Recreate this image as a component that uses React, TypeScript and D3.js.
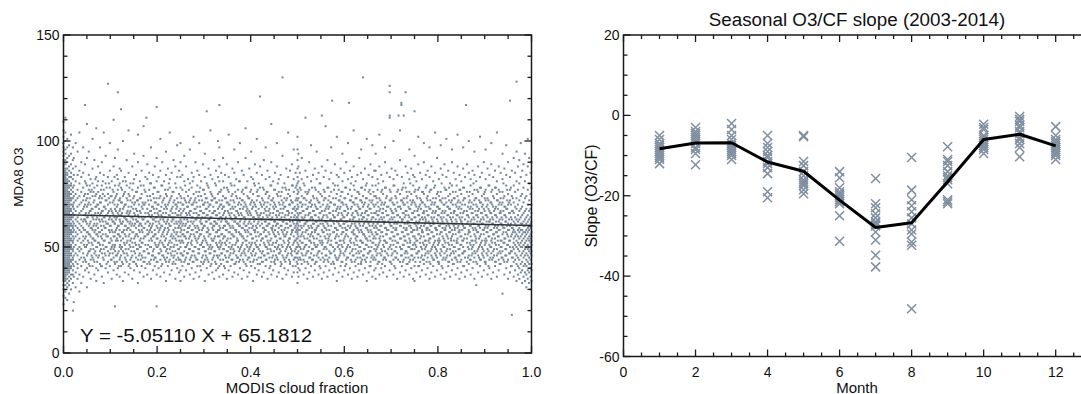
import React from "react";
import * as d3 from "d3";

// ---- left panel: MDA8 O3 vs MODIS cloud fraction ----
// each entry: cloud fraction (x1000) and the O3 values (ppb) read off that column of dots
const scatterColumns: [number, string][] = [
  [0, "23 27 30 32 34 35 36 37 38 39 40 41 42 43 44 45 46 47 48 49 50 51 52 53 54 55 56 57 58 59 60 61 62 63 64 65 66 67 68 69 70 71 72 73 74 75 76 77 78 79 80 81 82 83 84 85 86 87 88 89 90 91 93 95 97 99 102 105 109"],
  [4, "26 29 32 34 35 36 37 38 39 40 41 42 43 44 45 46 47 48 49 50 51 52 53 54 55 56 57 58 59 60 61 62 63 64 65 66 67 68 69 70 71 72 73 74 75 76 77 78 79 80 81 82 83 84 85 86 87 89 91 94 96 100 104 111"],
  [8, "25 31 33 35 37 38 39 40 41 42 43 44 45 46 47 48 49 50 51 52 53 54 55 56 57 58 59 60 61 62 63 64 65 66 67 68 69 70 71 72 73 74 75 76 77 78 79 80 81 82 84 85 87 90 92 97 101"],
  [12, "28 32 34 36 38 39 40 41 42 43 44 45 46 47 48 49 50 51 52 53 54 55 56 57 58 59 60 61 62 63 64 65 66 67 68 69 70 71 72 73 74 75 76 78 79 81 83 86 88 93 98"],
  [16, "30 35 37 40 41 43 44 46 47 49 50 51 53 54 56 57 58 60 61 63 64 65 67 68 70 72 73 75 77 79 80 83 85 89 94 103"],
  [20, "20 33 37 39 42 44 45 48 49 52 53 55 57 59 60 62 64 66 69 70 73 76 78 82 87 91 97"],
  [22, "24 36 41 46 50 54 58 61 65 68 71 74 79 84 92"],
  [26, "31 38 43 47 51 55 57 60 63 67 72 75 81 88 99"],
  [30, "35 40 42 46 49 53 56 59 62 64 69 73 77 84 95"],
  [34, "29 37 44 48 50 54 58 61 66 70 74 80 86 104"],
  [38, "33 41 45 49 52 57 60 63 67 71 76 83 90"],
  [42, "36 43 47 53 55 59 62 68 72 78 85 97"],
  [46, "39 44 50 54 58 63 65 70 75 81 89 117"],
  [50, "31 40 46 51 57 61 64 69 73 79 92 108"],
  [54, "38 42 48 52 56 60 66 71 77 84 95"],
  [58, "35 44 49 55 59 62 67 70 76 82"],
  [62, "41 45 51 54 58 64 68 74 80 87 101"],
  [66, "37 43 47 53 57 61 65 72 78 91"],
  [70, "34 40 46 50 56 60 63 69 75 83 106"],
  [74, "39 45 52 55 59 66 70 76 81 88"],
  [78, "42 48 51 57 62 65 71 74 85 97"],
  [82, "36 41 47 54 58 63 67 73 79 90"],
  [86, "33 44 49 53 60 64 69 77 84 104"],
  [90, "40 46 50 56 59 62 68 72 80 93"],
  [95, "38 43 48 55 61 66 70 75 83 127"],
  [99, "41 47 52 57 60 64 71 78 86 99"],
  [103, "35 44 50 53 58 63 67 74 81"],
  [107, "39 45 49 55 62 65 72 76 88 110"],
  [110, "22 42 48 51 57 61 68 73 79 92"],
  [114, "37 43 46 54 59 64 69 75 84"],
  [116, "40 47 53 56 60 66 70 77 82 96 123"],
  [120, "36 44 50 55 58 63 67 72 80 87"],
  [123, "41 46 49 53 61 65 71 78 86 115"],
  [127, "34 42 48 54 57 62 68 74 81 100"],
  [131, "38 45 51 56 60 64 70 76 83"],
  [135, "43 47 52 58 63 66 73 79 91"],
  [139, "37 41 49 55 59 65 69 75 85 105"],
  [143, "40 44 50 53 58 62 67 72 80"],
  [147, "35 46 52 57 61 64 71 77 88"],
  [151, "39 43 48 54 60 66 70 74 82 94"],
  [155, "42 45 51 56 59 63 68 76 84"],
  [159, "33 44 49 55 62 65 72 78 90 103"],
  [163, "38 47 50 53 57 61 67 73 81"],
  [167, "41 46 52 58 60 64 69 75 86"],
  [171, "36 43 48 54 59 63 70 79 93 107"],
  [175, "40 45 51 55 61 66 71 76 83"],
  [177, "111"],
  [179, "37 42 49 56 58 62 68 74 82 89"],
  [183, "43 47 53 57 60 65 70 77 85"],
  [187, "35 44 50 54 59 64 67 72 80 97"],
  [191, "39 46 48 55 61 63 69 75 84"],
  [195, "41 45 52 56 58 66 71 78 88"],
  [199, "22 37 43 50 54 60 64 68 73 81 92 116"],
  [203, "40 47 51 57 62 65 70 76 83"],
  [207, "36 44 49 53 59 63 67 74 86 101"],
  [211, "42 46 52 56 60 64 71 79 90"],
  [215, "38 45 50 55 58 62 68 73 81"],
  [219, "34 43 48 54 61 66 69 75 84 95"],
  [223, "41 47 51 57 59 63 70 77 87"],
  [227, "37 44 49 53 60 65 72 78 82 104"],
  [231, "39 46 52 56 62 64 68 74 85"],
  [235, "43 45 50 55 58 63 71 76 91"],
  [239, "35 42 48 54 59 66 70 80 88"],
  [243, "40 47 51 57 61 65 69 73 83 98"],
  [247, "38 44 49 53 60 62 67 75 86"],
  [250, "34 39 44 47 50 52 55 57 59 61 63 65 68 71 74 78 83 90 99"],
  [254, "41 46 53 56 60 64 70 77 84"],
  [258, "36 43 48 55 58 63 68 73 81 93"],
  [262, "39 45 50 54 61 66 71 76 88"],
  [266, "42 47 52 57 59 62 69 74 82"],
  [270, "37 44 49 55 60 65 67 72 80 96"],
  [274, "40 46 51 53 58 64 70 78 85"],
  [278, "35 43 48 56 62 66 71 75 83 102"],
  [282, "38 45 50 54 59 63 68 73 90"],
  [286, "41 44 52 57 60 64 69 79 86"],
  [290, "36 47 49 55 58 65 72 76 84 99"],
  [294, "39 43 51 56 61 63 67 74 81"],
  [298, "42 46 50 53 59 66 70 77 89"],
  [302, "34 44 48 54 60 64 71 75 83 94"],
  [306, "40 45 52 57 62 65 68 73 80 114"],
  [310, "37 43 49 55 58 63 69 78 87"],
  [314, "41 47 51 56 61 64 70 76 84 105"],
  [318, "38 44 50 53 59 66 72 74 82"],
  [322, "35 46 48 54 60 62 67 73 91"],
  [326, "39 42 52 57 61 65 71 79 86"],
  [330, "40 45 50 55 58 63 68 75 83 100"],
  [333, "36 41 46 49 52 55 58 60 63 66 69 72 76 81 88 97 117"],
  [337, "42 47 51 56 62 64 70 77 85"],
  [341, "37 44 49 54 59 65 69 74 81 92"],
  [345, "40 46 52 55 60 63 67 73 84"],
  [349, "35 43 48 53 58 62 71 78 89"],
  [353, "39 45 50 57 61 66 70 76 83 103"],
  [357, "41 47 49 54 59 64 68 72 80"],
  [361, "36 44 51 56 60 63 69 75 87"],
  [365, "38 42 48 55 62 65 71 79 85 96"],
  [369, "43 46 52 57 58 64 67 74 82"],
  [373, "37 45 50 53 61 66 70 77 90"],
  [377, "40 44 49 56 60 62 68 73 81 99"],
  [381, "35 47 51 55 59 65 72 76 86"],
  [385, "39 43 48 54 61 64 69 75 84"],
  [389, "42 46 53 57 60 63 70 78 92 106"],
  [393, "36 44 50 55 58 66 68 74 81"],
  [397, "38 45 49 52 59 62 67 73 87"],
  [401, "41 47 51 56 61 65 71 77 83 95"],
  [405, "34 43 48 54 60 64 69 75 82"],
  [409, "40 46 52 57 58 63 70 79 89"],
  [413, "37 44 50 53 59 66 72 76 85 101"],
  [417, "39 45 49 55 62 64 68 74 80"],
  [420, "42 48 51 56 60 65 71 78 88 121"],
  [424, "36 43 47 54 61 63 69 73 84"],
  [428, "38 46 52 57 59 66 70 77 91"],
  [432, "41 44 50 55 58 62 67 75 82 97"],
  [436, "35 47 49 53 60 64 71 76 86"],
  [440, "40 45 51 56 61 65 68 74 83"],
  [444, "37 43 48 54 59 63 72 79 90 108"],
  [448, "39 46 52 57 60 66 69 73 81"],
  [452, "42 44 50 55 58 62 70 77 85"],
  [456, "36 45 49 53 61 64 67 75 88 99"],
  [460, "38 47 51 56 59 65 71 76 82"],
  [464, "41 43 48 54 60 63 68 74 84"],
  [468, "35 46 50 57 62 66 70 78 93 130"],
  [472, "40 44 52 55 58 64 69 73 80"],
  [476, "37 45 49 56 61 63 72 77 87"],
  [480, "39 47 51 53 59 65 67 75 83 104"],
  [484, "42 43 50 54 60 62 70 74 86"],
  [488, "36 46 48 57 58 66 71 79 89"],
  [492, "38 44 52 55 61 64 68 76 82 96"],
  [496, "41 45 49 53 57 60 63 67 72 78 85"],
  [500, "33 38 42 45 47 50 52 54 56 57 59 61 62 64 66 68 70 72 75 77 80 83 87 91 96 102"],
  [502, "36 40 44 48 51 55 58 60 63 65 69 73 76 81 88 94"],
  [505, "39 45 50 53 58 62 66 71 78 85"],
  [509, "42 47 52 56 59 64 69 74 82 92"],
  [513, "37 44 49 55 60 63 67 73 80"],
  [517, "40 46 51 57 61 65 70 76 86 111"],
  [521, "35 43 48 54 58 62 68 75 83"],
  [525, "38 45 50 53 59 66 71 77 90"],
  [529, "41 47 52 56 60 64 69 72 81 98"],
  [533, "36 44 49 55 61 63 67 74 84"],
  [537, "39 42 51 57 58 65 70 78 87"],
  [541, "43 46 50 54 59 62 68 73 82 95"],
  [545, "37 45 48 56 60 64 71 76 85"],
  [549, "40 44 52 55 61 66 69 75 80"],
  [552, "35 47 51 53 58 63 67 74 88 112"],
  [556, "38 43 49 57 60 65 72 77 83"],
  [560, "41 46 50 54 59 62 68 73 86 107"],
  [564, "36 44 52 56 61 64 70 78 91"],
  [568, "39 45 48 55 58 66 69 74 82"],
  [572, "42 47 51 53 60 63 71 76 85 97"],
  [574, "119"],
  [576, "37 43 50 57 62 65 67 73 80"],
  [580, "40 46 49 54 59 64 70 79 89"],
  [584, "34 44 52 56 58 62 68 75 84 102"],
  [588, "38 45 51 55 61 66 72 77 83"],
  [592, "41 47 48 53 60 63 69 74 87"],
  [596, "36 43 50 57 59 65 71 76 81 94"],
  [600, "39 46 52 54 61 64 67 73 85"],
  [604, "42 44 49 56 58 62 70 78 90"],
  [608, "37 45 51 55 60 66 68 75 82 99"],
  [610, "118"],
  [612, "40 47 50 53 59 63 72 77 86"],
  [616, "35 43 48 57 61 65 69 74 83"],
  [620, "38 46 52 56 58 64 71 79 88 105"],
  [624, "41 44 49 54 60 62 67 73 81"],
  [628, "36 45 51 55 59 66 70 76 84"],
  [632, "39 47 50 57 61 63 68 75 92"],
  [636, "43 42 48 53 58 65 72 78 85 96"],
  [640, "37 46 52 56 60 64 69 74 82 130"],
  [644, "40 44 49 55 62 66 71 77 87"],
  [648, "34 45 51 54 59 63 67 73 80 101"],
  [652, "38 47 50 57 61 65 70 76 84"],
  [656, "41 43 48 53 58 62 68 75 89"],
  [660, "36 46 52 56 60 64 72 79 83 98"],
  [664, "39 45 49 55 59 66 69 74 86"],
  [667, "35 40 44 48 51 54 57 60 63 66 70 74 79 86 94"],
  [671, "42 47 50 56 61 65 71 77 82"],
  [675, "37 43 52 54 58 63 67 73 88 103"],
  [679, "40 46 49 57 60 64 70 76 84"],
  [683, "38 44 51 55 62 66 68 75 81"],
  [687, "41 45 48 53 59 62 71 78 90 97"],
  [691, "36 47 52 56 58 65 69 74 85"],
  [697, "39 43 50 54 61 63 72 77 83 111 112 123 126"],
  [701, "42 46 49 57 60 64 67 73 87"],
  [705, "37 44 51 55 59 66 70 79 82 100"],
  [709, "40 45 48 53 58 62 68 74 86"],
  [713, "35 47 52 56 61 65 71 76 84"],
  [716, "112"],
  [719, "38 43 50 54 60 64 69 75 91 105"],
  [722, "117 118"],
  [723, "41 46 49 57 62 63 72 77 83"],
  [727, "36 44 51 55 59 66 70 73 80 112"],
  [731, "39 45 48 53 58 65 67 78 88 123"],
  [735, "42 47 52 56 61 62 71 74 85"],
  [739, "37 43 50 54 60 64 68 76 82 96"],
  [743, "40 46 49 57 59 63 70 75 87"],
  [747, "35 44 51 55 58 66 72 79 84"],
  [750, "34 41 45 49 52 55 58 61 64 67 71 76 83 93 114"],
  [754, "38 47 50 53 60 62 69 74 81"],
  [758, "41 45 48 56 61 65 68 77 89 102"],
  [762, "36 43 52 54 59 63 70 73 85"],
  [766, "39 46 49 57 58 64 71 76 82"],
  [770, "42 44 51 55 60 66 67 75 90 99"],
  [774, "37 47 50 53 62 63 69 78 84"],
  [778, "40 45 48 56 59 65 72 74 86"],
  [782, "35 43 52 54 58 61 68 76 83 97"],
  [786, "38 46 49 57 60 64 70 77 88"],
  [790, "41 44 51 55 61 62 67 73 81"],
  [794, "36 47 50 53 59 66 71 79 85 104"],
  [798, "39 45 48 56 58 63 69 75 92"],
  [802, "42 43 52 54 60 65 68 74 82"],
  [806, "37 46 49 57 61 64 72 76 87 98"],
  [810, "40 44 51 55 59 62 67 73 84"],
  [814, "35 47 50 53 58 66 70 78 89"],
  [818, "38 45 48 56 60 63 71 77 83 101"],
  [822, "41 43 52 54 61 65 69 74 86"],
  [826, "36 46 49 57 59 64 68 75 80"],
  [830, "39 44 51 55 58 62 72 79 90 96"],
  [834, "42 47 50 53 60 66 67 73 85"],
  [838, "37 45 48 56 61 63 70 76 82"],
  [842, "40 43 52 54 59 65 71 74 88 103"],
  [846, "35 46 49 57 58 64 69 77 84"],
  [850, "38 44 51 55 62 62 68 75 81"],
  [854, "41 47 50 53 60 66 72 78 87 97"],
  [858, "36 45 48 56 59 63 70 73 83"],
  [860, "117"],
  [862, "39 43 52 54 61 65 67 76 89"],
  [866, "42 46 49 57 58 64 71 74 85 100"],
  [870, "37 44 51 55 60 62 69 79 82"],
  [874, "40 47 50 53 59 66 68 75 86"],
  [878, "35 45 48 56 61 63 72 77 84 95"],
  [882, "32 43 52 54 58 65 70 73 81"],
  [886, "38 46 49 57 60 64 67 76 88"],
  [890, "41 44 51 55 59 62 71 78 83 102"],
  [894, "36 47 50 53 61 66 69 74 85"],
  [898, "39 45 48 56 58 63 68 75 90"],
  [902, "42 43 52 54 60 65 72 77 82 96"],
  [906, "37 46 49 57 59 64 70 73 87"],
  [910, "40 44 51 55 62 62 67 79 84"],
  [914, "35 47 50 53 58 66 71 76 89 99"],
  [918, "38 45 48 56 61 63 69 74 83"],
  [922, "41 43 52 54 60 65 68 78 86"],
  [926, "36 46 49 57 59 64 72 75 81 104"],
  [930, "39 44 51 55 58 62 70 77 88"],
  [934, "42 47 50 53 61 66 67 73 85"],
  [938, "28 45 48 56 60 63 71 76 82 94"],
  [942, "37 43 52 54 59 65 69 74 87"],
  [946, "40 46 49 57 62 64 68 79 84 98"],
  [950, "35 44 51 55 58 61 70 75 90"],
  [954, "38 47 50 53 60 66 72 77 83 119"],
  [958, "18 41 45 48 56 59 63 67 74 86"],
  [962, "36 43 49 52 54 58 62 66 71 79 92"],
  [965, "39 44 47 51 55 57 61 64 69 76 85"],
  [968, "34 42 46 50 53 56 60 63 68 73 81 95 128"],
  [971, "37 41 45 49 52 55 58 62 65 70 77 88"],
  [974, "35 40 44 48 51 54 57 59 63 67 72 80 91"],
  [977, "38 42 46 50 52 55 58 61 64 68 74 83 99"],
  [980, "33 39 43 47 50 53 56 58 61 65 69 75 86"],
  [983, "36 41 45 48 51 54 57 60 62 66 71 78 89"],
  [986, "34 38 42 46 49 52 55 57 60 63 67 73 81 94"],
  [989, "31 37 41 44 47 50 53 56 58 61 64 68 74 84"],
  [992, "35 39 43 46 49 51 54 57 59 62 65 70 77 88 101"],
  [995, "33 38 42 45 48 50 53 55 58 60 63 67 72 80 92"],
  [998, "30 36 40 44 47 49 52 54 56 59 61 64 68 75 85"],
  [1000, "34 39 42 46 48 51 53 55 57 60 62 66 70 78 90"],
];

// second pass over the scatter: the dense core (about 40-80 ppb) between the columns above
const scatterCore: [number, string][] = [
  [44, "45 51 58 63 69 74"], [48, "43 50 55 62 66 72 80"], [52, "47 53 57 64 70 75"],
  [56, "41 48 56 61 67 73 79"], [60, "46 52 59 65 68 77"], [64, "44 49 54 60 63 71 76"],
  [68, "48 53 58 66 69 74 82"], [72, "43 50 56 61 64 70 79"], [76, "46 52 57 63 68 73"],
  [80, "41 49 55 60 66 71 77"], [84, "45 51 56 62 67 75 81"], [88, "47 53 59 64 69 74"],
  [92, "42 50 55 61 65 72 78"], [97, "46 52 58 63 67 73 80"], [101, "44 49 54 60 68 74"],
  [105, "47 51 57 62 66 71 77"], [109, "43 50 55 61 64 70 83"], [112, "46 53 58 63 67 74"],
  [118, "41 48 56 60 65 72 79"], [121, "45 51 55 62 68 73"], [125, "43 50 57 61 66 71 77"],
  [129, "47 52 58 64 69 75"], [133, "44 49 55 60 63 70 81"], [137, "46 53 59 62 67 72"],
  [141, "42 51 56 61 66 74 78"], [145, "45 48 54 60 64 69"], [149, "43 50 57 63 68 73 80"],
  [153, "47 52 55 61 65 71"], [157, "41 49 56 62 67 72 76"], [161, "46 51 58 60 64 70"],
  [165, "44 50 54 61 66 73 79"], [169, "45 52 57 63 68 71"], [173, "43 48 55 59 64 70 77"],
  [181, "47 51 56 62 66 72"], [185, "42 50 58 61 67 74 80"], [189, "46 53 57 60 65 69"],
  [193, "44 49 55 63 68 73 78"], [197, "45 51 56 62 64 71"], [201, "43 50 54 59 66 70 76"],
  [205, "47 52 58 61 67 73"], [209, "41 48 55 60 65 69 79"], [213, "46 51 57 63 66 72"],
  [217, "44 50 53 59 64 70 77"], [221, "45 49 56 62 68 74"], [225, "43 52 58 61 65 71 80"],
  [229, "47 50 55 60 67 73"], [233, "42 48 54 63 66 69 76"], [237, "46 51 57 61 64 72"],
  [241, "44 53 56 62 68 70 78"], [245, "45 49 55 59 65 71"], [252, "43 47 53 58 62 66 73"],
  [256, "46 52 56 61 67 70"], [260, "44 50 55 60 64 72 79"], [264, "47 51 57 63 65 69"],
  [268, "42 49 54 59 66 71 77"], [272, "45 52 56 62 67 73"], [276, "43 48 58 61 64 70 81"],
  [280, "46 50 55 60 68 72"], [284, "44 53 57 63 66 71 76"], [288, "47 49 54 59 65 74"],
  [292, "41 51 56 62 67 69 78"], [296, "45 52 58 61 64 72"], [300, "43 50 55 60 66 70 77"],
  [304, "46 48 53 62 68 73"], [308, "44 51 57 59 65 71 79"], [312, "47 50 56 63 67 70"],
  [316, "42 49 54 61 64 72 75"], [320, "45 53 58 60 66 69"], [324, "43 48 55 62 67 73 80"],
  [328, "46 51 57 61 65 71"], [335, "44 50 53 59 64 70 76"], [339, "47 52 56 63 68 72"],
  [343, "41 49 55 60 66 69 78"], [347, "45 51 58 62 64 73"], [351, "43 48 54 61 67 71 77"],
  [355, "46 52 57 60 65 70"], [359, "44 50 56 63 66 74 79"], [363, "47 49 55 59 68 72"],
  [367, "42 51 58 62 64 69 76"], [371, "45 53 54 61 67 73"], [375, "43 48 57 60 65 71 81"],
  [379, "46 50 56 63 66 70"], [383, "44 52 55 59 68 72 77"], [387, "47 49 58 62 64 71"],
  [391, "41 51 53 60 67 69 78"], [395, "45 48 57 61 65 73"], [399, "43 50 56 63 66 70 76"],
  [403, "46 52 54 59 68 72"], [407, "44 49 58 62 64 71 80"], [411, "47 51 55 60 67 69"],
  [415, "42 50 57 61 65 74 77"], [422, "45 53 56 63 66 70"], [426, "43 48 54 59 64 72 78"],
  [430, "46 51 58 62 68 71"], [434, "44 50 55 60 65 69 76"], [438, "47 52 57 61 67 73"],
  [442, "41 49 53 63 66 70 79"], [446, "45 51 58 59 64 72"], [450, "43 48 56 62 68 71 77"],
  [454, "46 52 55 60 65 69"], [458, "44 50 57 61 67 74 80"], [462, "47 49 54 63 66 70"],
  [466, "42 51 58 60 64 72 76"], [470, "45 53 56 62 68 71"], [474, "43 48 55 59 65 69 78"],
  [478, "46 50 57 61 67 73"], [482, "44 52 54 63 66 70 77"], [486, "47 49 56 60 64 72"],
  [490, "41 51 58 62 68 71 79"], [494, "45 48 53 59 65 69"], [498, "43 47 50 54 58 61 64 68 73 79"],
  [507, "44 49 55 60 66 71 77"], [511, "46 52 57 63 67 70"], [515, "43 50 54 61 64 73 79"],
  [519, "47 51 58 62 68 72"], [523, "42 48 56 60 65 69 76"], [527, "45 53 55 63 66 71"],
  [531, "44 49 57 59 64 70 78"], [535, "46 52 54 61 67 73"], [539, "43 50 58 62 65 69 77"],
  [543, "47 51 56 60 68 72"], [547, "41 48 53 63 66 71 80"], [554, "45 52 57 61 64 70"],
  [558, "44 50 55 59 67 73 76"], [562, "46 49 58 62 65 69"], [566, "43 53 54 60 68 72 78"],
  [570, "47 51 56 63 66 71"], [578, "42 48 57 61 64 70 77"], [582, "45 52 55 59 67 73"],
  [586, "44 50 58 62 65 69 79"], [590, "46 49 53 60 68 72"], [594, "43 51 56 63 66 71 76"],
  [598, "47 53 57 61 64 70"], [602, "41 48 55 59 67 73 78"], [606, "45 50 58 62 65 69"],
  [614, "44 52 54 60 68 72 80"], [618, "46 49 57 63 66 71"], [622, "43 51 56 61 64 70 77"],
  [626, "47 53 55 59 67 73"], [630, "42 48 58 62 65 69 76"], [634, "45 50 53 60 68 72"],
  [638, "44 52 57 63 66 71 78"], [642, "46 49 56 61 64 70"], [646, "43 51 54 59 67 73 79"],
  [650, "47 53 58 62 65 69"], [654, "41 48 55 60 68 72 77"], [658, "45 50 57 63 66 71"],
  [662, "44 52 54 61 64 70 76"], [669, "46 49 56 59 67 73"], [673, "43 51 58 62 65 69 80"],
  [677, "47 53 55 60 68 72"], [681, "42 48 57 63 66 71 77"], [685, "45 50 53 61 64 70"],
  [689, "44 52 56 59 67 73 78"], [694, "46 49 58 62 65 69"], [699, "43 51 54 60 68 72 76"],
  [703, "47 53 57 63 66 71"], [707, "41 48 55 61 64 70 79"], [711, "45 50 58 59 67 73"],
  [715, "44 52 56 62 65 69 77"], [721, "46 49 54 60 68 72"], [725, "43 51 57 63 66 71 78"],
  [729, "47 53 55 61 64 70"], [733, "42 48 58 59 67 73 76"], [737, "45 50 56 62 65 69"],
  [741, "44 52 53 60 68 72 80"], [745, "46 49 57 63 66 71"], [752, "43 51 54 61 64 70 77"],
  [756, "47 53 58 59 67 73"], [760, "41 48 56 62 65 69 78"], [764, "45 50 55 60 68 72"],
  [768, "44 52 57 63 66 71 76"], [772, "46 49 53 61 64 70"], [776, "43 51 58 59 67 73 79"],
  [780, "47 53 56 62 65 69"], [784, "42 48 54 60 68 72 77"], [788, "45 50 57 63 66 71"],
  [792, "44 52 55 61 64 70 78"], [796, "46 49 58 59 67 73"], [800, "43 51 53 62 65 69 76"],
  [804, "47 53 56 60 68 72"], [808, "41 48 57 63 66 71 80"], [812, "45 50 54 61 64 70"],
  [816, "44 52 58 59 67 73 77"], [820, "46 49 55 62 65 69"], [824, "43 51 57 60 68 72 78"],
  [828, "47 53 54 63 66 71"], [832, "42 48 56 61 64 70 76"], [836, "45 50 58 59 67 73"],
  [840, "44 52 53 62 65 69 79"], [844, "46 49 57 60 68 72"], [848, "43 51 55 63 66 71 77"],
  [852, "47 53 58 61 64 70"], [856, "41 48 54 59 67 73 78"], [864, "45 50 56 62 65 69"],
  [868, "44 52 57 60 68 72 76"], [872, "46 49 53 63 66 71"], [876, "43 51 58 61 64 70 80"],
  [880, "47 53 55 59 67 73"], [884, "42 48 57 62 65 69 77"], [888, "45 50 54 60 68 72"],
  [892, "44 52 56 63 66 71 78"], [896, "46 49 58 61 64 70"], [900, "43 51 53 59 67 73 76"],
  [904, "47 53 57 62 65 69"], [908, "41 48 55 60 68 72 79"], [912, "45 50 58 63 66 71"],
  [916, "44 52 54 61 64 70 77"], [920, "46 49 56 59 67 73"], [924, "43 51 57 62 65 69 78"],
  [928, "47 53 55 60 68 72"], [932, "42 48 58 63 66 71 76"], [936, "45 50 53 61 64 70"],
  [940, "44 52 57 59 67 73 80"], [944, "46 49 54 62 65 69"], [948, "43 51 56 60 68 72 77"],
  [952, "47 53 58 63 66 71"], [956, "41 48 55 61 64 70 78"], [960, "45 50 57 59 67 73"],
];

const fitSlope = -5.0511;
const fitIntercept = 65.1812;

const leftXLabels = [0, 0.2, 0.4, 0.6, 0.8, 1.0];
const leftYLabels = [0, 50, 100, 150];

// ---- right panel: seasonal slope ----
const months = [1, 2, 3, 4, 5, 6, 7, 8, 9, 10, 11, 12];
const monthlyMean = [-8.3, -6.9, -6.8, -11.6, -13.9, -21.1, -27.9, -26.7, -16.5, -6.0, -4.7, -7.6];
// one slope per year (2003-2014) for each month
const yearlySlopes: number[][] = [
  [-5, -6, -7, -7.5, -8, -8.5, -9, -9.5, -10, -10.5, -11, -12],
  [-3, -4, -4.5, -5, -5.5, -6, -6.5, -7, -8, -8.5, -9.5, -12.3],
  [-2, -3.5, -5, -6, -7, -7.5, -8, -8.5, -9, -9.5, -10, -11],
  [-5, -7, -8, -9, -10, -10.5, -11.5, -12, -13, -14.5, -19, -20.5],
  [-5, -5.3, -11.5, -12.5, -14, -15, -16, -16.5, -17, -17.5, -18.5, -19.5],
  [-14, -15.5, -18, -19, -19.5, -20, -20.5, -21, -21.5, -22, -25, -31.3],
  [-15.7, -22, -23, -24.5, -25.5, -26.5, -27, -27.5, -29, -31, -34.8, -37.7],
  [-10.5, -18.6, -21, -22.5, -24, -25.5, -27, -28.5, -29.5, -31.5, -32.3, -48.1],
  [-7.8, -11, -11.5, -12.5, -14, -15, -15.5, -16, -17, -21, -21.5, -22],
  [-2.2, -3, -3.5, -5, -5.5, -6, -6.5, -7, -7.5, -8, -8.5, -9.5],
  [-0.3, -1, -1.5, -2.5, -3, -4, -4.5, -5.5, -6, -7, -8, -10.3],
  [-2.8, -5, -6, -6.5, -7, -7.5, -8, -8.5, -9, -9.5, -10, -11],
];
const rightXLabels = [0, 2, 4, 6, 8, 10, 12];
const rightYLabels = [-60, -40, -20, 0, 20];

const FONT = "'Liberation Sans', Arial, Helvetica, sans-serif";
const DOT = "#778899";
const AXIS = "#1a1a1a";

type Lin = d3.ScaleLinear<number, number>;

function Frame({ x, y, xMajor, yMajor, xMinor, yMinor, xFmt, yFmt }: {
  x: Lin; y: Lin; xMajor: number[]; yMajor: number[]; xMinor: number[]; yMinor: number[];
  xFmt: (v: number) => string; yFmt: (v: number) => string;
}) {
  const [x0, x1] = x.range();
  const [y0, y1] = y.range(); // y0 bottom, y1 top
  const big = 7, small = 4;
  return (
    <g>
      <rect x={x0} y={y1} width={x1 - x0} height={y0 - y1} fill="none" stroke={AXIS} strokeWidth={1.5} />
      {xMinor.map((t) => {
        const len = xMajor.includes(t) ? big : small;
        return (
          <g key={"xt" + t}>
            <line x1={x(t)} x2={x(t)} y1={y0} y2={y0 - len} stroke={AXIS} strokeWidth={1.3} />
            <line x1={x(t)} x2={x(t)} y1={y1} y2={y1 + len} stroke={AXIS} strokeWidth={1.3} />
          </g>
        );
      })}
      {yMinor.map((t) => {
        const len = yMajor.includes(t) ? big : small;
        return (
          <g key={"yt" + t}>
            <line x1={x0} x2={x0 + len} y1={y(t)} y2={y(t)} stroke={AXIS} strokeWidth={1.3} />
            <line x1={x1} x2={x1 - len} y1={y(t)} y2={y(t)} stroke={AXIS} strokeWidth={1.3} />
          </g>
        );
      })}
      {xMajor.map((t) => (
        <text key={"xl" + t} x={x(t)} y={377} textAnchor="middle" fontSize={14} fill="#111">
          {xFmt(t)}
        </text>
      ))}
      {yMajor.map((t) => (
        <text key={"yl" + t} x={x0 - 4} y={y(t) + 5} textAnchor="end" fontSize={14} fill="#111">
          {yFmt(t)}
        </text>
      ))}
    </g>
  );
}

export default function App() {
  const W = 1081, H = 394;

  const xL = d3.scaleLinear().domain([0, 1]).range([63.5, 531.5]);
  const yL = d3.scaleLinear().domain([0, 150]).range([353, 35]);
  const xR = d3.scaleLinear().domain([0, 13]).range([623.5, 1091.7]);
  const yR = d3.scaleLinear().domain([-60, 20]).range([356.5, 35]);

  const points = [...scatterColumns, ...scatterCore].flatMap(([cf, vals]) =>
    vals.split(" ").map((v) => ({ cf: cf / 1000, o3: +v }))
  );

  const meanLine = d3
    .line<number>()
    .x((_, i) => xR(months[i]))
    .y((d) => yR(d))(monthlyMean);

  const cross = "M-4.5,-4.5L4.5,4.5M-4.5,4.5L4.5,-4.5";

  return (
    <svg
      width={W}
      height={H}
      style={{ position: "absolute", left: 0, top: 0, background: "#fff", fontFamily: FONT }}
    >
      {/* left panel */}
      <g>
        {points.map((p, i) => (
          <rect key={i} x={xL(p.cf) - 1} y={yL(p.o3) - 1} width={2} height={2} fill={DOT} />
        ))}
        <line
          x1={xL(0)}
          x2={xL(1)}
          y1={yL(fitIntercept)}
          y2={yL(fitIntercept + fitSlope)}
          stroke="#333"
          strokeWidth={1.6}
        />
        <Frame
          x={xL}
          y={yL}
          xMajor={leftXLabels}
          yMajor={leftYLabels}
          xMinor={xL.ticks(20).map((d) => +d.toFixed(2))}
          yMinor={yL.ticks(15)}
          xFmt={d3.format(".1f")}
          yFmt={(v) => String(v)}
        />
        <text x={80} y={342} fontSize={18} textLength={232} lengthAdjust="spacingAndGlyphs" fill="#111">
          {`Y = ${fitSlope.toFixed(5)} X + ${fitIntercept}`}
        </text>
        <text x={297} y={392.5} textAnchor="middle" fontSize={15} fill="#111">
          MODIS cloud fraction
        </text>
        <text transform="translate(23,177) rotate(-90)" textAnchor="middle" fontSize={13.5} fill="#111">
          MDA8 O3
        </text>
      </g>

      {/* right panel */}
      <g>
        {yearlySlopes.map((vals, m) =>
          vals.map((v, k) => (
            <path
              key={m + "-" + k}
              d={cross}
              transform={`translate(${xR(months[m])},${yR(v)})`}
              stroke="#7f8fa0"
              strokeWidth={1.5}
              fill="none"
            />
          ))
        )}
        <path d={meanLine ?? ""} fill="none" stroke="#000" strokeWidth={3} strokeLinejoin="round" />
        <Frame
          x={xR}
          y={yR}
          xMajor={rightXLabels}
          yMajor={rightYLabels}
          xMinor={xR.ticks(26)}
          yMinor={yR.ticks(16)}
          xFmt={(v) => String(v)}
          yFmt={(v) => String(v)}
        />
        <text x={857} y={26} textAnchor="middle" fontSize={18.8} fill="#111">
          Seasonal O3/CF slope (2003-2014)
        </text>
        <text x={857} y={392.5} textAnchor="middle" fontSize={15} fill="#111">
          Month
        </text>
        <text transform="translate(597,196) rotate(-90)" textAnchor="middle" fontSize={16} fill="#111">
          Slope (O3/CF)
        </text>
      </g>
    </svg>
  );
}
